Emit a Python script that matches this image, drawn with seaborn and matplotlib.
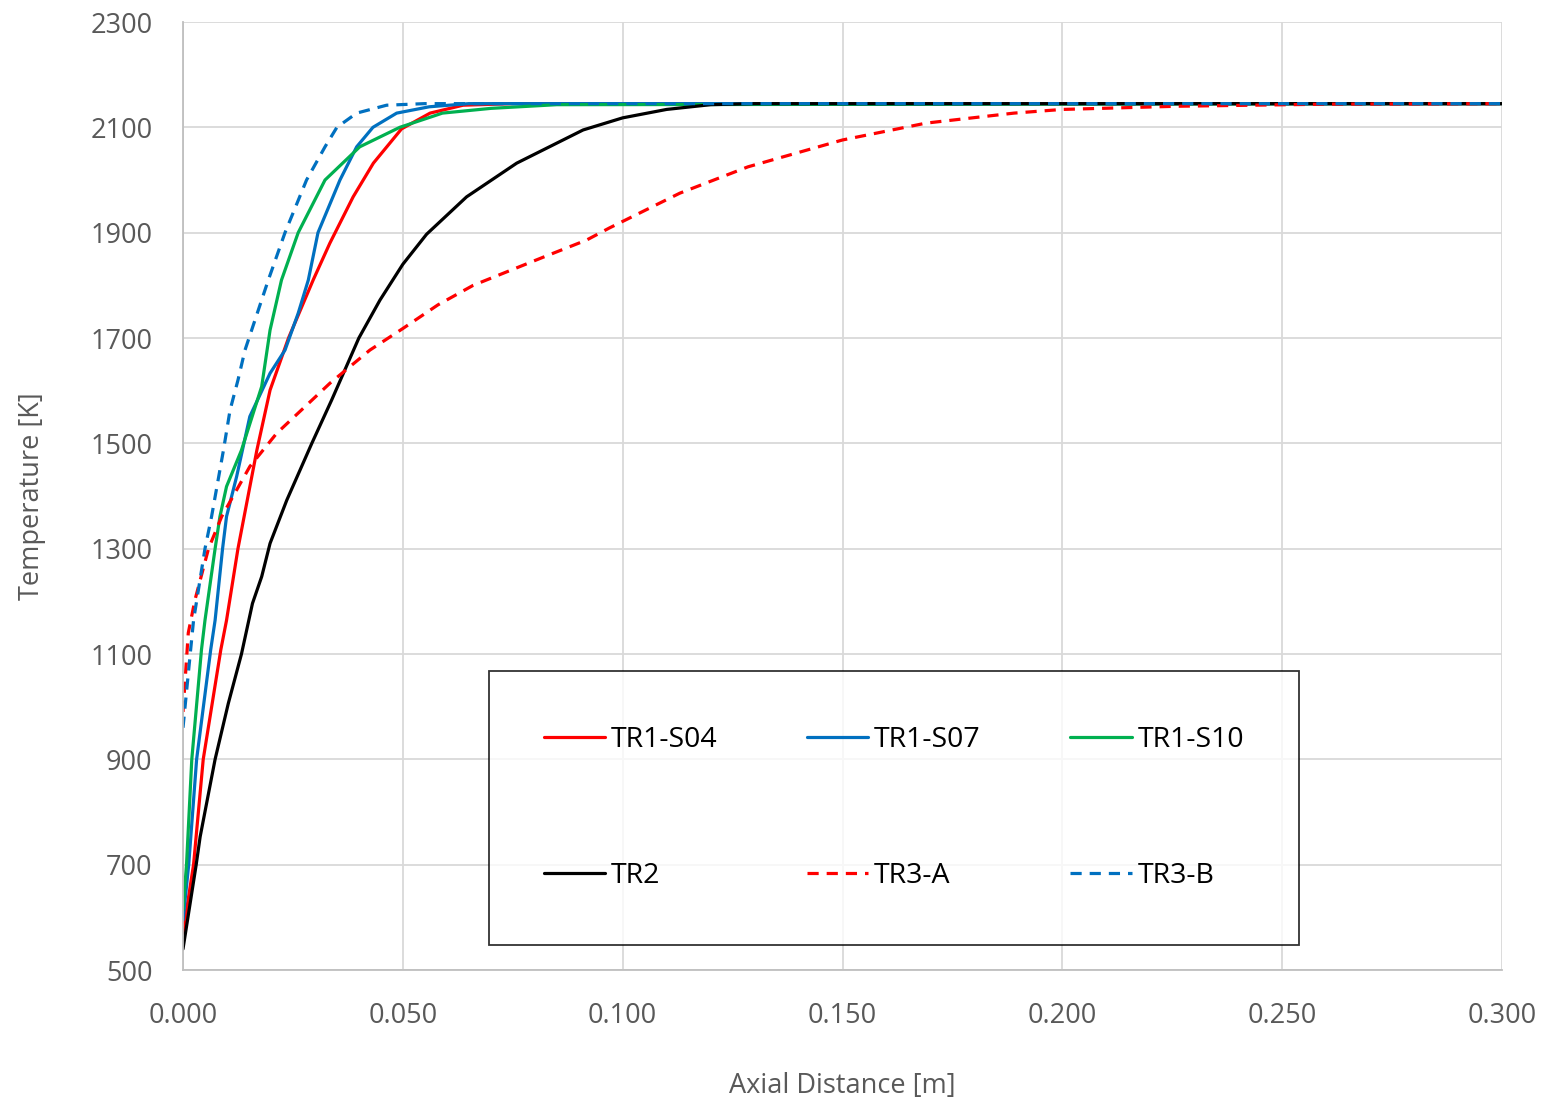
import matplotlib
matplotlib.use("Agg")
import matplotlib.pyplot as plt
import seaborn as sns
import pandas as pd

# ---- data ----
s04_x = [0, 0.0024, 0.0046, 0.0086, 0.0099, 0.0125, 0.0168, 0.0198, 0.024, 0.0296, 0.0334, 0.0387, 0.0433, 0.0497, 0.0562, 0.0637, 0.075, 0.300]
s04_t = [570, 700, 900, 1108, 1164, 1300, 1487, 1601, 1700, 1810, 1880, 1968, 2032, 2097, 2127, 2142, 2145, 2145]

s07_x = [0, 0.0013, 0.0031, 0.0063, 0.0073, 0.009, 0.0099, 0.0122, 0.0152, 0.0198, 0.0232, 0.0262, 0.0285, 0.0307, 0.0357, 0.0395, 0.0432, 0.0486, 0.056, 0.065, 0.300]
s07_t = [595, 700, 900, 1108, 1164, 1300, 1361, 1437, 1551, 1633, 1677, 1747, 1810, 1900, 2000, 2063, 2100, 2127, 2139, 2145, 2145]

s10_x = [0, 0.0008, 0.002, 0.0042, 0.005, 0.0073, 0.0084, 0.0099, 0.0133, 0.0179, 0.0198, 0.0224, 0.0262, 0.0323, 0.0402, 0.0493, 0.059, 0.070, 0.085, 0.300]
s10_t = [614, 700, 900, 1108, 1164, 1300, 1361, 1418, 1487, 1608, 1715, 1810, 1900, 2000, 2063, 2100, 2127, 2136, 2143, 2145]

tr2_x = [0, 0.003, 0.0039, 0.0073, 0.0103, 0.0133, 0.0158, 0.0179, 0.0198, 0.0236, 0.0293, 0.0338, 0.0400, 0.0448, 0.050, 0.0554, 0.0645, 0.0759, 0.091, 0.100, 0.110, 0.120, 0.130, 0.300]
tr2_t = [540, 700, 753, 900, 1006, 1100, 1196, 1247, 1310, 1392, 1500, 1582, 1700, 1772, 1840, 1897, 1968, 2032, 2095, 2118, 2134, 2143, 2145, 2145]

tr3a_x = [0, 0.0012, 0.0027, 0.0058, 0.0088, 0.0152, 0.0213, 0.0334, 0.0425, 0.050, 0.058, 0.066, 0.0818, 0.0918, 0.097, 0.113, 0.1285, 0.150, 0.169, 0.189, 0.200, 0.226, 0.260, 0.300]
tr3a_t = [990, 1140, 1202, 1300, 1361, 1456, 1519, 1614, 1677, 1718, 1763, 1800, 1853, 1886, 1909, 1975, 2025, 2076, 2108, 2127, 2134, 2140, 2144, 2145]

tr3b_x = [0, 0.0017, 0.0024, 0.005, 0.0065, 0.0092, 0.0107, 0.0125, 0.0141, 0.0194, 0.0232, 0.0281, 0.0323, 0.035, 0.0395, 0.0463, 0.055, 0.300]
tr3b_t = [960, 1105, 1164, 1300, 1361, 1487, 1563, 1620, 1677, 1810, 1900, 2000, 2063, 2100, 2127, 2142, 2145, 2145]

series_names = ["TR1-S04", "TR1-S07", "TR1-S10", "TR2", "TR3-A", "TR3-B"]
series_data = [(s04_x, s04_t), (s07_x, s07_t), (s10_x, s10_t),
               (tr2_x, tr2_t), (tr3a_x, tr3a_t), (tr3b_x, tr3b_t)]
colors = ["#FF0000", "#0070C0", "#00B050", "#000000", "#FF0000", "#0070C0"]
styles = ["-", "-", "-", "-", (0, (3.5, 2.5)), (0, (3.5, 2.5))]

x_ticks = [0.0, 0.05, 0.10, 0.15, 0.20, 0.25, 0.30]
y_ticks = list(range(500, 2301, 200))

# ---- plot ----
sns.set_theme(style="white")
plt.rcParams['font.family'] = ['Open Sans', 'DejaVu Sans']

fig = plt.figure(figsize=(15.48, 11.02), dpi=100)
ax = fig.add_axes([183/1548, 1 - 970/1102, (1502-183)/1548, (970-22)/1102])

for name, (xs, ts), c, ls in zip(series_names, series_data, colors, styles):
    df = pd.DataFrame({"x": xs, "T": ts})
    sns.lineplot(data=df, x="x", y="T", ax=ax, color=c, linestyle=ls,
                 linewidth=2.3, sort=False, label=name)

ax.set_xlim(0, 0.3)
ax.set_ylim(500, 2300)
ax.set_xticks(x_ticks)
ax.set_xticklabels([f"{v:.3f}" for v in x_ticks])
ax.set_yticks(y_ticks)
ax.grid(True, color="#d9d9d9", linewidth=1.3)
ax.set_axisbelow(True)
for s in ["top", "right"]:
    ax.spines[s].set_visible(False)
for s in ["left", "bottom"]:
    ax.spines[s].set_color("#bfbfbf")
    ax.spines[s].set_linewidth(1.3)
ax.tick_params(axis="both", length=0, labelsize=19.5, colors="#595959")
ax.tick_params(axis="y", pad=22)
ax.tick_params(axis="x", pad=23)

ax.set_xlabel("Axial Distance [m]", fontsize=19.5, color="#595959", labelpad=30)
ax.set_ylabel("Temperature [K]", fontsize=19.5, color="#595959", labelpad=32)

# legend filled row by row like the reference
handles, labels = ax.get_legend_handles_labels()
order = [0, 3, 1, 4, 2, 5]
leg = ax.legend([handles[i] for i in order], [labels[i] for i in order],
                ncol=3, loc="lower left", bbox_to_anchor=(0.232, 0.026),
                borderaxespad=0,
                frameon=True, fancybox=False, edgecolor="black",
                fontsize=20.5, handlelength=2.15, handletextpad=0.2,
                columnspacing=3.15, labelspacing=3.8, borderpad=1.93)
leg.get_frame().set_linewidth(1.3)
for t in leg.get_texts():
    t.set_color("black")

fig.savefig("out.png", dpi=100)
